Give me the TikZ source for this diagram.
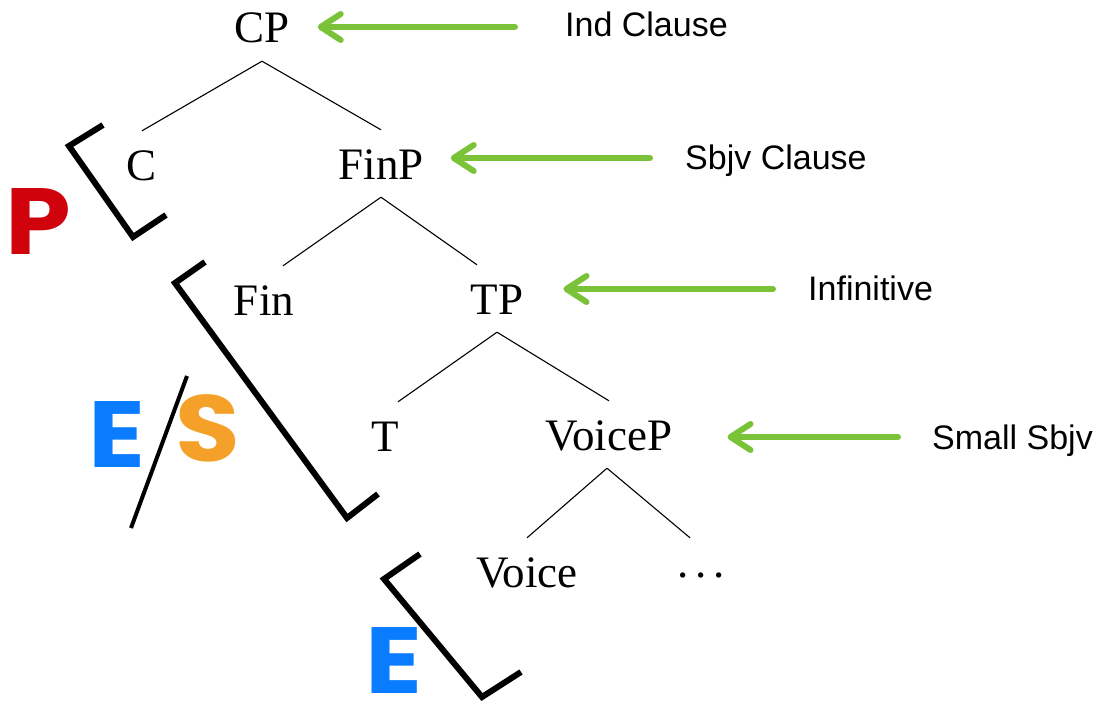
\documentclass[tikz,border=0pt]{standalone}
\usepackage{fontspec}
\setmainfont{Liberation Serif}
\newfontfamily\labelfont{Liberation Sans}
\newfontfamily\marker{Poppins}
\usetikzlibrary{arrows.meta}
\definecolor{arrgreen}{RGB}{122,195,56}
\definecolor{mred}{RGB}{208,2,12}
\definecolor{mblue}{RGB}{10,124,255}
\definecolor{morange}{RGB}{245,160,40}
\tikzset{
  tnode/.style={font=\fontsize{45}{50}\selectfont, anchor=base, inner sep=0pt, inner ysep=18pt, text height=31pt, text depth=0pt},
  tline/.style={line width=1.1pt, black},
  lab/.style={font=\labelfont\fontsize{34}{40}\selectfont, anchor=west, inner sep=0pt, text height=24pt, text depth=0pt},
  garrow/.style={arrgreen, line width=6pt, line cap=round, -{Straight Barb[length=20pt, width=26pt, line cap=round, round]}},
  brk/.style={line width=6pt, line join=miter, black},
  mk/.style={font=\marker\bfseries\fontsize{94}{100}\selectfont, inner sep=0pt, text depth=0pt, xscale=1.12}
}
\begin{document}
\begin{tikzpicture}[x=1pt,y=-1pt]
\useasboundingbox (0,0) rectangle (1103,706);
% tree nodes
\node[tnode] (CP) at (262,43) {CP};
\node[tnode] (C) at (142,180) {C};
\node[tnode] (FinP) at (381,179) {FinP};
\node[tnode] (Fin) at (264,315) {Fin};
\node[tnode] (TP) at (497,314) {TP};
\node[tnode] (T) at (385,451) {T};
\node[tnode] (VoiceP) at (609,450) {VoiceP};
\node[tnode] (Voice) at (527,587) {Voice};
\node[tnode] (dots) at (701,587) {\raisebox{10pt}{.\kern7pt.\kern7pt.}};
% tree branches
\draw[tline] (CP.south) -- (C.north);
\draw[tline] (CP.south) -- (FinP.north);
\draw[tline] (FinP.south) -- ([xshift=19pt]Fin.north);
\draw[tline] (FinP.south) -- ([xshift=-20pt]TP.north);
\draw[tline] (TP.south) -- ([xshift=13pt]T.north);
\draw[tline] (TP.south) -- (VoiceP.north);
\draw[tline] ([xshift=-2pt]VoiceP.south) -- (Voice.north);
\draw[tline] ([xshift=-2pt]VoiceP.south) -- ([xshift=-11pt]dots.north);
% labels
\node[lab] (ind) at (565,25) {Ind Clause};
\node[lab] (sbjv) at (685,157) {Sbjv Clause};
\node[lab] (inf) at (808,288) {Infinitive};
\node[lab] (small) at (932,437) {Small Sbjv};
% arrows
\draw[garrow] ([xshift=-50pt,yshift=-2pt]ind.west) -- ([xshift=28pt,yshift=-2pt]ind.west -| CP.east);
\draw[garrow] ([xshift=-35pt,yshift=-1pt]sbjv.west) -- ([xshift=27pt,yshift=-1pt]sbjv.west -| FinP.east);
\draw[garrow] ([xshift=-35pt,yshift=-1pt]inf.west) -- ([xshift=40pt,yshift=-1pt]inf.west -| TP.east);
\draw[garrow] ([xshift=-34pt]small.west) -- ([xshift=55pt]small.west -| VoiceP.east);
% brackets
\draw[brk] (103,125) -- (69,146) -- (133,237) -- (166,215);
\draw[brk] (205,262) -- (175,283) -- (347,518) -- (378,494);
\draw[brk] (420,554) -- (384,579) -- (482,697) -- (521,672);
\draw[line width=4pt] (187,376) -- (131,528);
% marker letters
\node[mk, text=mred] (lP) at (38,222) {P};
\node[mk, text=mblue] (lE1) at (117,435) {E};
\node[mk, text=morange] (lS) at (208,428) {S};
\node[mk, text=mblue] (lE2) at (394,660) {E};
\end{tikzpicture}
\end{document}
